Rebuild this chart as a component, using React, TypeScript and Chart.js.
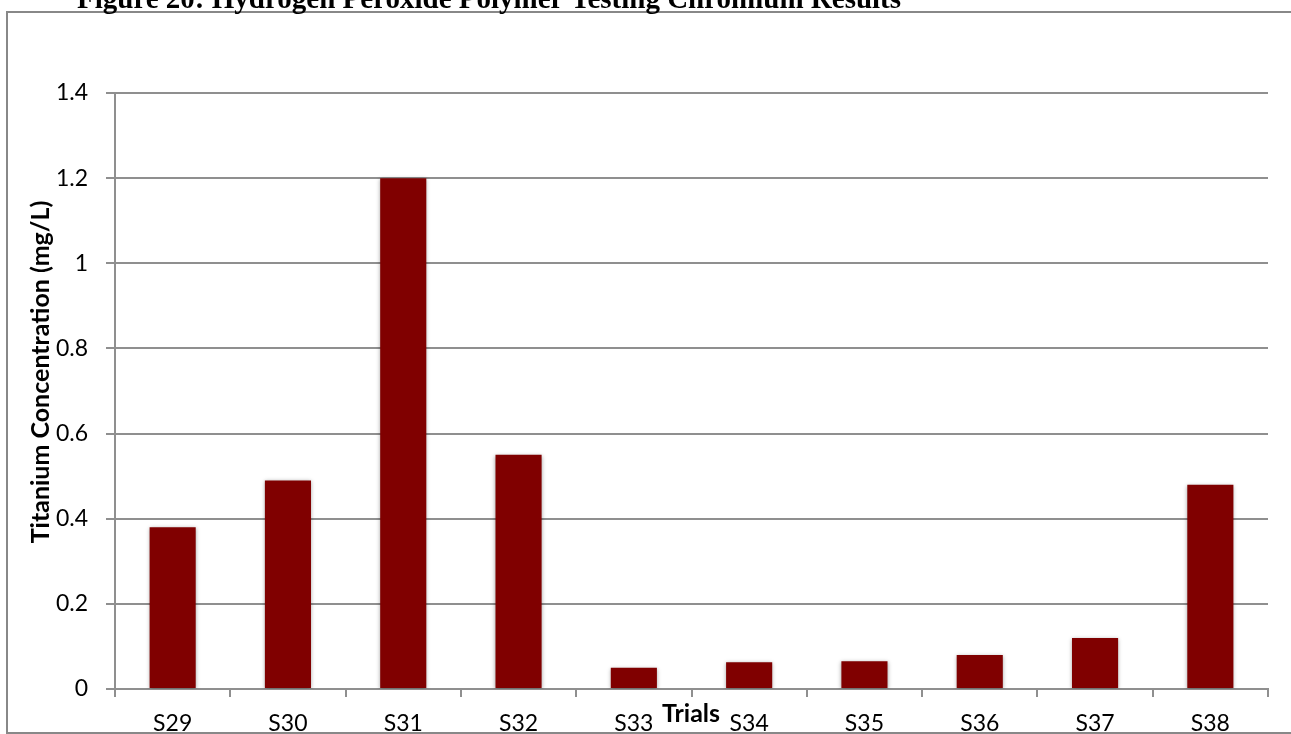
import React, { useEffect, useRef } from "react";
import { Chart, registerables } from "chart.js";

Chart.register(...registerables);

const trials = ["S29", "S30", "S31", "S32", "S33", "S34", "S35", "S36", "S37", "S38"];
const titaniumValues = [0.38, 0.49, 1.2, 0.55, 0.05, 0.063, 0.065, 0.08, 0.12, 0.48];
const yTickValues = [0, 0.2, 0.4, 0.6, 0.8, 1, 1.2, 1.4];
const figureTitle = "Figure 20: Hydrogen Peroxide Polymer Testing Chromium Results";
const yAxisTitle = "Titanium Concentration (mg/L)";
const xAxisTitle = "Trials";

const GRID = "#8f8f8f";
const BAR = "#800000";
const TICK_FONT = "Lato";

const decorPlugin = {
  id: "decor",
  beforeDraw(chart: any) {
    const ctx = chart.ctx;
    ctx.save();
    ctx.strokeStyle = "#888888";
    ctx.lineWidth = 2;
    ctx.strokeRect(7, 12, 1320, 721);
    ctx.fillStyle = "#000";
    ctx.font = "bold 29px 'Liberation Serif', 'Times New Roman', serif";
    ctx.textAlign = "left";
    ctx.textBaseline = "alphabetic";
    ctx.fillText(figureTitle, 77, 7.5);
    ctx.restore();
  },
  beforeDatasetsDraw(chart: any) {
    const ctx = chart.ctx;
    ctx.save();
    ctx.shadowColor = "rgba(0,0,0,0.35)";
    ctx.shadowBlur = 4;
    ctx.shadowOffsetX = 0;
    ctx.shadowOffsetY = 1;
  },
  afterDatasetsDraw(chart: any) {
    chart.ctx.restore();
  },
  afterDraw(chart: any) {
    const ctx = chart.ctx;
    ctx.save();
    ctx.fillStyle = "#000";
    ctx.font = `bold 25px ${TICK_FONT}`;
    ctx.textAlign = "center";
    ctx.textBaseline = "alphabetic";
    ctx.fillText(xAxisTitle, 691, 722);
    ctx.translate(41, 372);
    ctx.rotate(-Math.PI / 2);
    ctx.textBaseline = "middle";
    ctx.fillText(yAxisTitle, 0, 0);
    ctx.restore();
  },
};

export default function App() {
  const ref = useRef<HTMLCanvasElement | null>(null);

  useEffect(() => {
    if (!ref.current) return;
    const chart = new Chart(ref.current, {
      type: "bar",
      data: {
        labels: trials,
        datasets: [
          {
            data: titaniumValues,
            backgroundColor: BAR,
            borderWidth: 0,
            barPercentage: 0.4,
            categoryPercentage: 1.0,
          },
        ],
      },
      options: {
        responsive: false,
        animation: false,
        maintainAspectRatio: false,
        layout: { padding: { left: 0, top: 93, right: 23, bottom: 0 } },
        plugins: {
          legend: { display: false },
          title: { display: false },
          tooltip: { enabled: false },
        },
        scales: {
          x: {
            afterFit(scale: any) {
              scale.height = 45;
            },
            grid: {
              display: true,
              drawOnChartArea: false,
              drawTicks: true,
              tickLength: 8,
              color: GRID,
              lineWidth: 2,
              offset: true,
            },
            border: { display: true, color: GRID, width: 2 },
            ticks: {
              color: "#000",
              font: { family: TICK_FONT, size: 23 },
              padding: 13,
              maxRotation: 0,
              autoSkip: false,
            },
          },
          y: {
            min: 0,
            max: 1.4,
            afterFit(scale: any) {
              scale.width = 115;
            },
            afterBuildTicks(scale: any) {
              scale.ticks = yTickValues.map((v) => ({ value: v }));
            },
            grid: {
              color: GRID,
              lineWidth: 2,
              drawTicks: true,
              tickLength: 9,
            },
            border: { display: true, color: GRID, width: 2 },
            ticks: {
              color: "#000",
              font: { family: TICK_FONT, size: 23 },
              padding: 18,
              callback: (v: any) => String(v),
            },
          },
        },
      },
      plugins: [decorPlugin],
    });
    return () => chart.destroy();
  }, []);

  return (
    <div style={{ position: "fixed", left: 0, top: 0, width: 1291, height: 734, background: "#fff" }}>
      <canvas ref={ref} width={1291} height={734} style={{ width: 1291, height: 734, display: "block" }} />
    </div>
  );
}
